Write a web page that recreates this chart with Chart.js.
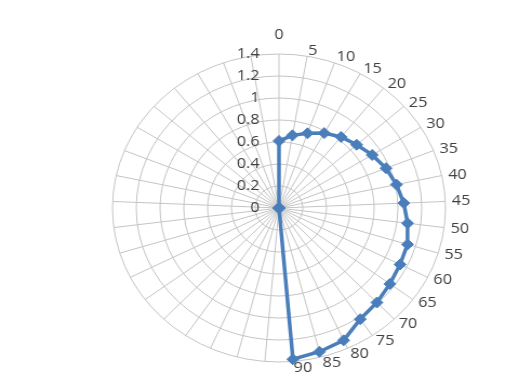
<!DOCTYPE html>
<html>
<head>
<meta charset="utf-8">
<script src="https://cdn.jsdelivr.net/npm/chart.js@4"></script>
<style>
  html, body { margin: 0; padding: 0; background: #fff; }
  canvas { display: block; }
</style>
</head>
<body>
<!-- the reference is stretched a little sideways, so the canvas is too -->
<canvas id="polar" width="492" height="388" style="width:532px;height:388px"></canvas>
<script>
// angles 0..180 step 5, only 0..90 are labelled and measured
var angles = ["0","5","10","15","20","25","30","35","40","45","50","55","60","65","70","75","80","85","90",
              "","","","","","","","","","","","","","","","","",""];
var values = [0.61, 0.67, 0.72, 0.78, 0.83, 0.87, 0.92, 0.97, 1.01, 1.05, 1.09, 1.13, 1.14, 1.16, 1.19, 1.22, 1.32, 1.35, 1.38,
              0, 0, 0, 0, 0, 0, 0, 0, 0, 0, 0, 0, 0, 0, 0, 0, 0, 0];
var rMax = 1.4;
var rStep = 0.2;

var blue = "#4a7ebb";
var gridColor = "#c4c4c4";
var textColor = "#404040";
var labelFont = "15px 'Open Sans'";

// Excel puts the value labels left of the 0 spoke and anchors the angle
// labels by their left edge just outside the ring, so both are drawn here
var excelLabels = {
  id: "excelLabels",
  afterDatasetsDraw: function(chart){
    var s = chart.scales.r;
    var ctx = chart.ctx;
    ctx.save();
    ctx.font = labelFont;
    ctx.fillStyle = textColor;
    ctx.textBaseline = "middle";

    ctx.textAlign = "right";
    s.ticks.forEach(function(t){
      var p = s.getPointPositionForValue(0, t.value);
      ctx.fillText(String(Math.round(t.value * 10) / 10), p.x - 18, p.y);
    });

    angles.forEach(function(lbl, i){
      if (!lbl) return;
      var p = s.getPointPosition(i, s.drawingArea + 6);
      if (i === 0) {
        ctx.textAlign = "center";
        ctx.fillText(lbl, p.x, p.y - 13);
      } else {
        ctx.textAlign = "left";
        ctx.fillText(lbl, p.x, p.y);
      }
    });
    ctx.restore();
  }
};

new Chart("polar", {
  type: "radar",
  data: {
    labels: angles,
    datasets: [{
      data: values,
      borderColor: blue,
      backgroundColor: blue,
      borderWidth: 3.5,
      fill: false,
      pointStyle: "rectRot",
      pointRadius: 5.5,
      pointBackgroundColor: blue,
      pointBorderColor: blue,
      pointBorderWidth: 1
    }]
  },
  options: {
    responsive: false,
    animation: false,
    layout: { padding: { left: 25, right: 0, top: 54, bottom: 26 } },
    plugins: { legend: { display: false }, tooltip: { enabled: false } },
    scales: {
      r: {
        min: 0,
        max: rMax,
        ticks: { stepSize: rStep, display: false },
        grid: { circular: true, color: gridColor, lineWidth: 1 },
        angleLines: { color: gridColor, lineWidth: 1 },
        pointLabels: { display: false }
      }
    }
  },
  plugins: [excelLabels]
});
</script>
</body>
</html>
